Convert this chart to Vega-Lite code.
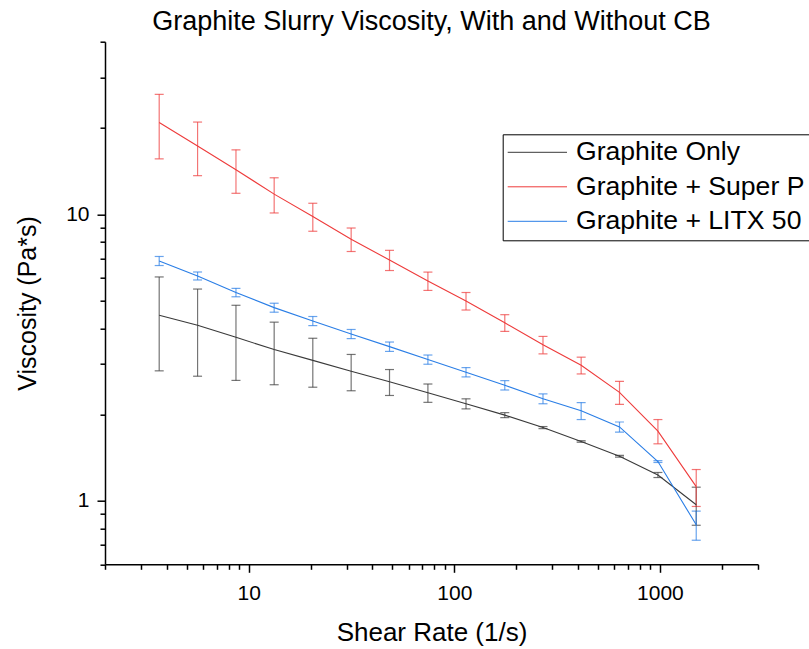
{
  "$schema": "https://vega.github.io/schema/vega-lite/v6.json",
  "width": 653,
  "height": 522.6,
  "autosize": {"type": "none"},
  "padding": {"left": 105, "top": 41.7, "right": 51, "bottom": 84.7},
  "background": "white",
  "title": {"text": "Graphite Slurry Viscosity, With and Without CB", "fontSize": 27, "font": "Liberation Sans", "fontWeight": "normal", "color": "black", "anchor": "middle", "frame": "group", "offset": 5},
  "config": {
    "view": {"stroke": null},
    "axis": {"grid": false, "domainColor": "black", "domainWidth": 1.5, "tickColor": "black", "tickWidth": 1.5, "labelColor": "black", "titleColor": "black", "labelFont": "Liberation Sans", "titleFont": "Liberation Sans", "titleFontWeight": "normal", "labelFontSize": 21, "titleFontSize": 26}
  },
  "data": {"values": [
    {"series": "Graphite Only", "rate": 3.67, "visc": 4.44, "err": 1.6},
    {"series": "Graphite Only", "rate": 5.64, "visc": 4.10, "err": 1.38},
    {"series": "Graphite Only", "rate": 8.67, "visc": 3.72, "err": 1.09},
    {"series": "Graphite Only", "rate": 13.3, "visc": 3.37, "err": 0.83},
    {"series": "Graphite Only", "rate": 20.5, "visc": 3.09, "err": 0.6},
    {"series": "Graphite Only", "rate": 31.5, "visc": 2.83, "err": 0.41},
    {"series": "Graphite Only", "rate": 48.4, "visc": 2.60, "err": 0.27},
    {"series": "Graphite Only", "rate": 74.4, "visc": 2.38, "err": 0.175},
    {"series": "Graphite Only", "rate": 114, "visc": 2.18, "err": 0.088},
    {"series": "Graphite Only", "rate": 176, "visc": 1.99, "err": 0.04},
    {"series": "Graphite Only", "rate": 270, "visc": 1.80, "err": 0.015},
    {"series": "Graphite Only", "rate": 414, "visc": 1.61, "err": 0.01},
    {"series": "Graphite Only", "rate": 636, "visc": 1.43, "err": 0.01},
    {"series": "Graphite Only", "rate": 978, "visc": 1.23, "err": 0.025},
    {"series": "Graphite Only", "rate": 1502, "visc": 0.968, "err": 0.147},
    {"series": "Graphite + Super P", "rate": 3.67, "visc": 20.9, "err": 5.3},
    {"series": "Graphite + Super P", "rate": 5.64, "visc": 17.3, "err": 3.67},
    {"series": "Graphite + Super P", "rate": 8.67, "visc": 14.3, "err": 2.47},
    {"series": "Graphite + Super P", "rate": 13.3, "visc": 11.75, "err": 1.65},
    {"series": "Graphite + Super P", "rate": 20.5, "visc": 9.82, "err": 1.1},
    {"series": "Graphite + Super P", "rate": 31.5, "visc": 8.18, "err": 0.77},
    {"series": "Graphite + Super P", "rate": 48.4, "visc": 6.92, "err": 0.56},
    {"series": "Graphite + Super P", "rate": 74.4, "visc": 5.85, "err": 0.43},
    {"series": "Graphite + Super P", "rate": 114, "visc": 4.98, "err": 0.35},
    {"series": "Graphite + Super P", "rate": 176, "visc": 4.18, "err": 0.28},
    {"series": "Graphite + Super P", "rate": 270, "visc": 3.50, "err": 0.245},
    {"series": "Graphite + Super P", "rate": 414, "visc": 2.97, "err": 0.2},
    {"series": "Graphite + Super P", "rate": 636, "visc": 2.39, "err": 0.22},
    {"series": "Graphite + Super P", "rate": 978, "visc": 1.75, "err": 0.17},
    {"series": "Graphite + Super P", "rate": 1502, "visc": 1.12, "err": 0.165},
    {"series": "Graphite + LITX 50", "rate": 3.67, "visc": 6.87, "err": 0.25},
    {"series": "Graphite + LITX 50", "rate": 5.64, "visc": 6.09, "err": 0.195},
    {"series": "Graphite + LITX 50", "rate": 8.67, "visc": 5.33, "err": 0.18},
    {"series": "Graphite + LITX 50", "rate": 13.3, "visc": 4.72, "err": 0.17},
    {"series": "Graphite + LITX 50", "rate": 20.5, "visc": 4.24, "err": 0.155},
    {"series": "Graphite + LITX 50", "rate": 31.5, "visc": 3.82, "err": 0.14},
    {"series": "Graphite + LITX 50", "rate": 48.4, "visc": 3.45, "err": 0.13},
    {"series": "Graphite + LITX 50", "rate": 74.4, "visc": 3.11, "err": 0.115},
    {"series": "Graphite + LITX 50", "rate": 114, "visc": 2.81, "err": 0.105},
    {"series": "Graphite + LITX 50", "rate": 176, "visc": 2.53, "err": 0.095},
    {"series": "Graphite + LITX 50", "rate": 270, "visc": 2.27, "err": 0.09},
    {"series": "Graphite + LITX 50", "rate": 414, "visc": 2.06, "err": 0.14},
    {"series": "Graphite + LITX 50", "rate": 636, "visc": 1.81, "err": 0.073},
    {"series": "Graphite + LITX 50", "rate": 978, "visc": 1.37, "err": 0.01},
    {"series": "Graphite + LITX 50", "rate": 1502, "visc": 0.824, "err": 0.096}
  ]},
  "layer": [
    {
      "mark": {"type": "errorbar", "ticks": {"size": 9}, "thickness": 1.2, "opacity": 0.7},
      "encoding": {
        "x": {"field": "rate", "type": "quantitative", "scale": {"type": "log", "domain": [2, 3000], "nice": false},
              "axis": {"orient": "bottom", "values": [2,3,4,5,6,7,8,9,20,30,40,50,60,70,80,90,200,300,400,500,600,700,800,900,2000,3000], "labels": false, "domain": false, "tickSize": 5, "title": null}},
        "y": {"field": "visc", "type": "quantitative", "scale": {"type": "log", "domain": [0.6, 40], "nice": false},
              "axis": {"orient": "left", "values": [0.6,0.7,0.8,0.9,2,3,4,5,6,7,8,9,20,30,40], "labels": false, "domain": false, "tickSize": 5, "title": null}},
        "yError": {"field": "err"},
        "color": {"field": "series", "type": "nominal", "scale": {"domain": ["Graphite Only", "Graphite + Super P", "Graphite + LITX 50"], "range": ["#3a3a3a", "#ee3b3b", "#2a7ee6"]}, "legend": null}
      }
    },
    {
      "mark": {"type": "line", "strokeWidth": 1.1},
      "encoding": {
        "x": {"field": "rate", "type": "quantitative", "scale": {"type": "log", "domain": [2, 3000], "nice": false},
              "axis": {"orient": "bottom", "values": [10, 100, 1000], "format": "d", "tickSize": 8, "labelPadding": 10, "title": "Shear Rate (1/s)", "titlePadding": 16}},
        "y": {"field": "visc", "type": "quantitative", "scale": {"type": "log", "domain": [0.6, 40], "nice": false},
              "axis": {"orient": "left", "values": [1, 10], "format": "d", "tickSize": 8, "labelPadding": 8, "title": "Viscosity (Pa*s)", "titleFontSize": 25, "titlePadding": 25}},
        "color": {"field": "series", "type": "nominal", "scale": {"domain": ["Graphite Only", "Graphite + Super P", "Graphite + LITX 50"], "range": ["#3a3a3a", "#ee3b3b", "#2a7ee6"]},
                  "legend": {"title": null, "orient": "none", "legendX": 397.7, "legendY": 92.6, "strokeColor": "black", "fillColor": "white", "padding": 5, "symbolType": "M-1.4,0H4.6", "symbolSize": 400, "symbolStrokeWidth": 1, "symbolFillColor": "transparent", "clipHeight": 26, "labelFontSize": 26.6, "labelFont": "Liberation Sans", "labelColor": "black", "labelOffset": 41.7, "rowPadding": 7.5, "labelLimit": 400}}
      }
    }
  ],
  "resolve": {"axis": {"x": "independent", "y": "independent"}, "legend": {"color": "independent"}}
}
